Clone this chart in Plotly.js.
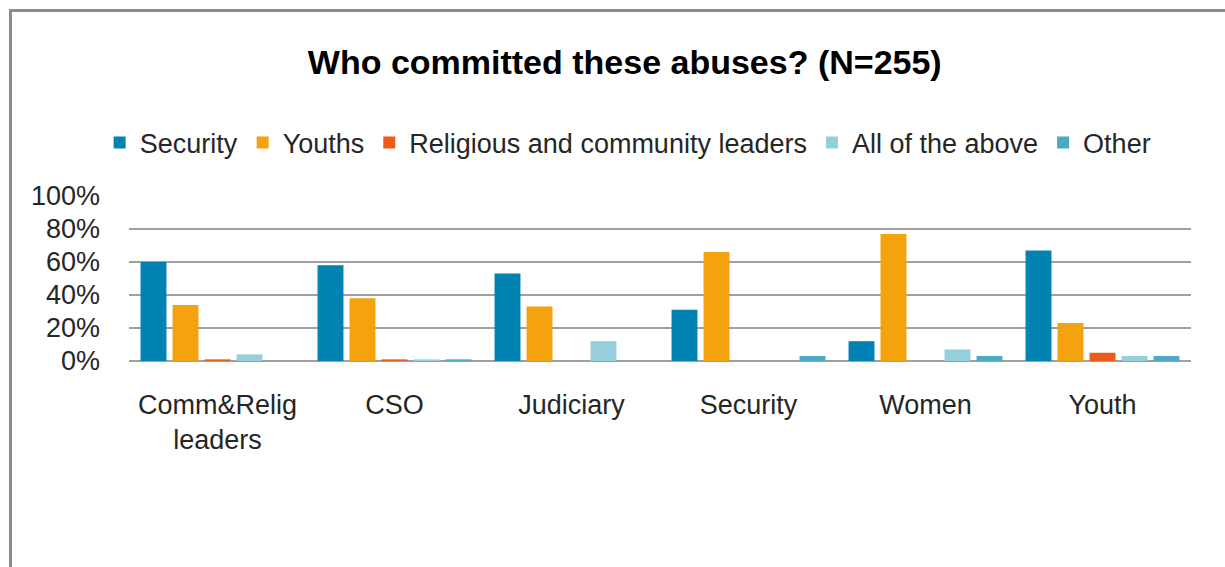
<!DOCTYPE html>
<html>
<head>
<meta charset="utf-8">
<script src="https://cdn.plot.ly/plotly-3.0.1.min.js"></script>
<style>
  html, body { margin: 0; padding: 0; background: #ffffff; }
  #frame { position: absolute; left: 9px; top: 9px; width: 1240px; height: 600px;
           border-left: 3px solid #8c8c8c; border-top: 3px solid #8c8c8c; box-sizing: border-box; }
  #chart { position: absolute; left: 0; top: 0; width: 1225px; height: 567px; }
</style>
</head>
<body>
<div id="frame"></div>
<div id="chart"></div>
<script>
const categories = ["Comm&Relig<br>leaders", "CSO", "Judiciary", "Security", "Women", "Youth"];
const seriesNames = ["Security", "Youths", "Religious and community leaders", "All of the above", "Other"];
const security  = [0.60, 0.58, 0.53, 0.31, 0.12, 0.67];
const youths    = [0.34, 0.38, 0.33, 0.66, 0.77, 0.23];
const religious = [0.01, 0.01, 0.00, 0.00, 0.00, 0.05];
const allAbove  = [0.04, 0.01, 0.12, 0.00, 0.07, 0.03];
const other     = [0.00, 0.01, 0.00, 0.03, 0.03, 0.03];
const colors = ["#0083B3", "#F4A20E", "#EE5A1B", "#95CFDC", "#4BA9C4"];
const tickVals = [0, 0.2, 0.4, 0.6, 0.8, 1.0];
const tickText = ["0%", "20%", "40%", "60%", "80%", "100%"];

const values = [security, youths, religious, allAbove, other];
const traces = values.map((v, i) => ({
  type: "bar",
  name: seriesNames[i],
  x: categories,
  y: v,
  marker: { color: colors[i], line: { width: 0 } },
  hoverinfo: "x+y+name"
}));

const font = "'Liberation Sans', Arial, sans-serif";
const layout = {
  width: 1225, height: 567,
  paper_bgcolor: "rgba(0,0,0,0)",
  plot_bgcolor: "rgba(0,0,0,0)",
  margin: { l: 129, r: 34, t: 196, b: 206 },
  barmode: "group",
  bargap: 0.096,
  bargroupgap: 0.19,
  title: {
    text: "<b>Who committed these abuses? (N=255)</b>",
    font: { family: font, size: 34, color: "#000000" },
    x: 0.51, xanchor: "center",
    y: 0.89, yanchor: "middle"
  },
  showlegend: true,
  legend: {
    orientation: "h",
    x: 0.47, xanchor: "center",
    y: 1.321, yanchor: "middle",
    font: { family: font, size: 27, color: "#262626" },
    itemwidth: 30,
    tracegroupgap: 0,
    bgcolor: "rgba(0,0,0,0)"
  },
  xaxis: {
    type: "category",
    showgrid: false,
    showline: false,
    zeroline: false,
    ticks: "",
    tickfont: { family: font, size: 27, color: "#262626" },
    ticklabelstandoff: 25
  },
  yaxis: {
    range: [0, 1.0],
    tickvals: tickVals,
    ticktext: tickText,
    showgrid: true,
    gridcolor: "#A0A0A0",
    gridwidth: 1.5,
    zeroline: true,
    zerolinecolor: "#A0A0A0",
    zerolinewidth: 1.5,
    showline: false,
    ticks: "",
    ticklabelstandoff: 28,
    tickfont: { family: font, size: 27, color: "#262626" }
  }
};

Plotly.newPlot("chart", traces, layout, { displayModeBar: false, staticPlot: true });
</script>
</body>
</html>
